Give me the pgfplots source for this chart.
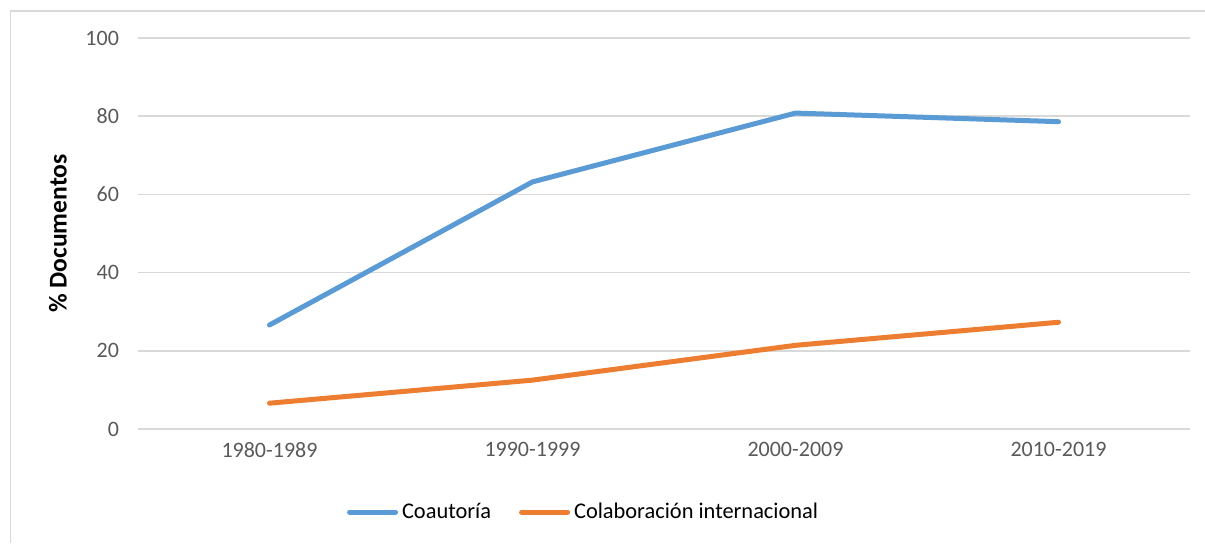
\documentclass[border=0pt]{standalone}
\usepackage{pgfplots}
\pgfplotsset{compat=1.18}
\usepackage{fontspec}
\setmainfont{Carlito}
\definecolor{cblue}{HTML}{5B9BD5}
\definecolor{corange}{HTML}{ED7D31}
\definecolor{gridgray}{HTML}{D9D9D9}
\definecolor{ticktext}{HTML}{595959}
\begin{document}
\begin{tikzpicture}
\path[use as bounding box] (0,0) rectangle (602.5pt,271.5pt);
\draw[gridgray,line width=0.75pt] (5.25pt,0) -- (5.25pt,266pt) -- (602.5pt,266pt);
\begin{axis}[
  at={(69pt,57pt)}, anchor=south west,
  width=526pt, height=195.5pt, scale only axis,
  xmin=-0.5, xmax=3.5, ymin=0, ymax=100,
  xtick={0,1,2,3},
  xticklabels={1980-1989,1990-1999,2000-2009,2010-2019},
  ytick={0,20,40,60,80,100},
  ymajorgrids, grid style={gridgray,line width=0.75pt},
  axis line style={draw=none},
  major tick style={draw=none},
  tick label style={font=\fontsize{11}{13}\selectfont, text=ticktext},
  /pgf/number format/assume math mode=true,
  yticklabel style={xshift=-6pt},
  xticklabel style={yshift=-3pt},
  ylabel={\% Documentos},
  ylabel style={font=\bfseries\fontsize{12.8}{14}\selectfont, at={(rel axis cs:0,0.5)}, anchor=south, yshift=32pt},
  legend style={at={(0.4245,-0.2123)}, anchor=center, draw=none, fill=none,
    legend columns=-1, font=\fontsize{11.2}{13}\selectfont,
    /tikz/every even column/.append style={column sep=12pt}},
  legend image code/.code={\draw[#1,line cap=round] (3.5pt,0pt) -- (26.5pt,0pt);},
  legend cell align=left,
]
\addplot[cblue, line width=2.5pt, line cap=round, line join=round] coordinates {(0,26.6) (1,63.2) (2,80.8) (3,78.6)};
\addlegendentry{Coautoría}
\addplot[corange, line width=2.5pt, line cap=round, line join=round] coordinates {(0,6.6) (1,12.5) (2,21.4) (3,27.3)};
\addlegendentry{Colaboración internacional}
\end{axis}
\end{tikzpicture}
\end{document}
